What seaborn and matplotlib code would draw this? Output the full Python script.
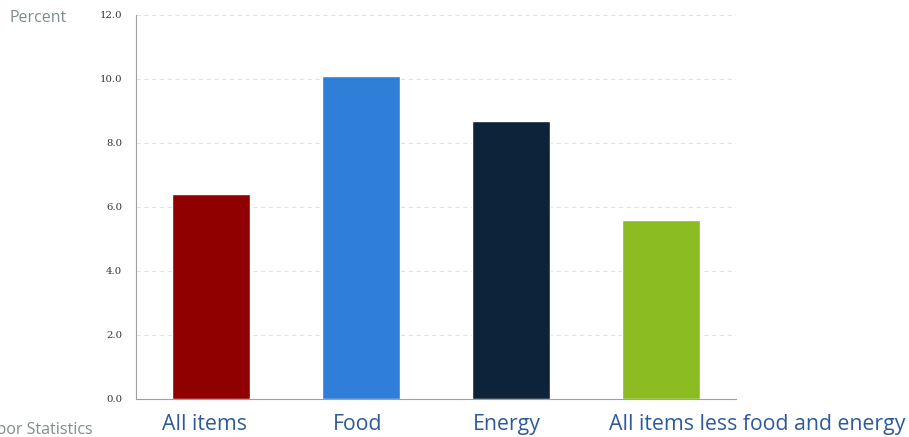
import matplotlib
matplotlib.use('Agg')
import matplotlib.pyplot as plt
import matplotlib.transforms as mtransforms
import seaborn as sns
import pandas as pd

# CPI 12-month percent change
categorias = ['All items', 'Food', 'Energy', 'All items less food and energy']
valores = [6.4, 10.1, 8.7, 5.6]
cores = ['#910000', '#2f7ed8', '#0d233a', '#8bbc21']
ticks_y = [0, 2, 4, 6, 8, 10, 12]

dados = pd.DataFrame({'Categoria': categorias, 'Valor': valores})

sns.set_style('white')
plt.rcParams['font.family'] = ['Open Sans', 'DejaVu Sans']

fig = plt.figure(figsize=(9.09, 4.37), dpi=100)
ax = fig.add_axes([136/909, 38/437, 600/909, 384/437])

sns.barplot(data=dados, x='Categoria', y='Valor', hue='Categoria', palette=cores,
            width=0.52, legend=False, ax=ax, saturation=1, zorder=3)

ax.set_xlim(-0.5, 3.5)
ax.set_ylim(0, 12)
ax.set_yticks(ticks_y)
ax.set_yticklabels([f'{t:.1f}' for t in ticks_y], family='DejaVu Serif', fontsize=7.3, color='#333333')
ax.tick_params(axis='y', length=0, pad=10)
ax.tick_params(axis='x', length=0, pad=11, labelsize=15.3, labelcolor='#2e5a9a')
ax.set_xlabel('')
ax.set_ylabel('')

# deslocamento dos rótulos do eixo x (em pixels), como no original
desloc = [-6, -3, -4, 96]
for rot, dx in zip(ax.get_xticklabels(), desloc):
    rot.set_transform(rot.get_transform() + mtransforms.ScaledTranslation(dx/100, 0, fig.dpi_scale_trans))

ax.yaxis.grid(True, linestyle=(0, (4, 3)), color='#e2e2e2', linewidth=0.8, zorder=0)
for lado in ['top', 'right']:
    ax.spines[lado].set_visible(False)
ax.spines['left'].set_color('#a0a0a0')
ax.spines['bottom'].set_color('#a0a0a0')

fig.text(67/909, 1 - 18/437, 'Percent', ha='right', va='center', fontsize=11.5, color='#7f8c8d')
fig.text(93/909, 1 - 430/437, 'Source: U.S. Bureau of Labor Statistics', ha='right', va='center',
         fontsize=11.5, color='#7f8c8d')

fig.savefig('out.png', dpi=100)
